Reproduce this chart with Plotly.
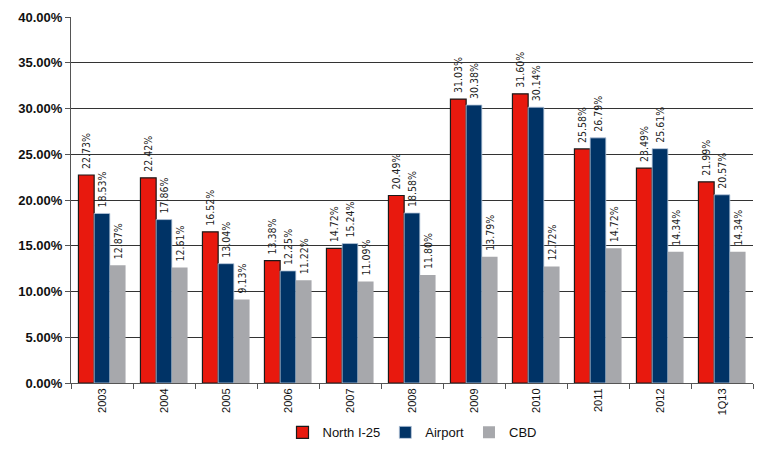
import plotly.graph_objects as go

# Vacancy rates by submarket
periods = ["2003", "2004", "2005", "2006", "2007", "2008", "2009", "2010", "2011", "2012", "1Q13"]
north_i25 = [22.73, 22.42, 16.52, 13.38, 14.72, 20.49, 31.03, 31.60, 25.58, 23.49, 21.99]
airport = [18.53, 17.86, 13.04, 12.25, 15.24, 18.58, 30.38, 30.14, 26.79, 25.61, 20.57]
cbd = [12.87, 12.61, 9.13, 11.22, 11.09, 11.80, 13.79, 12.72, 14.72, 14.34, 14.34]

y_ticks = [0, 5, 10, 15, 20, 25, 30, 35, 40]

series = [
    ("North I-25", north_i25, "#E8190E", dict(color="#1a1a1a", width=1.2)),
    ("Airport", airport, "#003366", dict(color="#b8c8dc", width=0.8)),
    ("CBD", cbd, "#A7A8AC", dict(color="#A7A8AC", width=0)),
]

fig = go.Figure()
for name, vals, color, line in series:
    fig.add_trace(go.Bar(
        name=name,
        x=periods,
        y=[v / 100 for v in vals],
        marker=dict(color=color, line=line),
        # leading space keeps the rotated label clear of the bar top
        text=[f" {v:.2f}%" for v in vals],
        textposition="outside",
        textangle=-90,
        constraintext="none",
        cliponaxis=False,
        textfont=dict(family="Liberation Sans Narrow, DejaVu Sans Condensed, Liberation Sans, Arial",
                      size=10.5, color="#222"),
    ))

fig.update_layout(
    width=763,
    height=457,
    margin=dict(l=71, r=10, t=14, b=69),
    barmode="group",
    bargap=0.24,
    bargroupgap=0,
    plot_bgcolor="white",
    paper_bgcolor="white",
    font=dict(family="Liberation Sans, Arial", color="#111"),
    legend=dict(
        orientation="h",
        x=0.5, xanchor="center",
        y=-0.135, yanchor="middle",
        font=dict(size=13, color="#111"),
        itemwidth=30,
        tracegroupgap=0,
    ),
    showlegend=True,
)

fig.update_xaxes(
    type="category",
    tickangle=-90,
    tickfont=dict(size=11, color="#111"),
    showline=True,
    linecolor="#555",
    linewidth=1,
    ticks="outside",
    tickson="boundaries",
    ticklen=5,
    tickcolor="#555",
    showgrid=False,
)

fig.update_yaxes(
    range=[0, 0.40],
    tickvals=[v / 100 for v in y_ticks],
    ticktext=[f"{v:.2f}%" for v in y_ticks],
    tickfont=dict(size=13, color="#111", family="Liberation Sans, Arial", weight="bold"),
    showline=True,
    linecolor="#555",
    linewidth=1,
    ticks="outside",
    ticklen=5,
    tickcolor="#555",
    showgrid=True,
    gridcolor="#333333",
    gridwidth=1,
    zeroline=False,
)

fig.write_html("out.html")
